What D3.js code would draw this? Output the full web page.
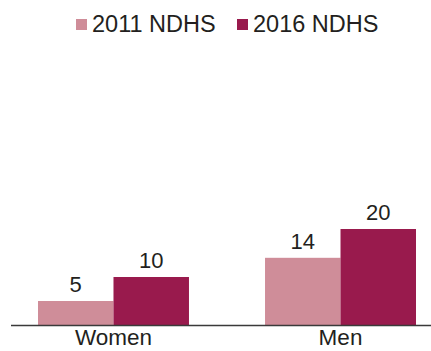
<!DOCTYPE html>
<html>
<head>
<meta charset="utf-8">
<script src="https://cdn.jsdelivr.net/npm/d3@7"></script>
<style>
  html, body { margin: 0; padding: 0; background: #fff; }
  svg { display: block; font-family: "Liberation Sans", Arial, sans-serif; }
</style>
</head>
<body>
<svg id="chart" width="431" height="351"></svg>
<script>
// Survey rounds and their values per group
const categories = ["Women", "Men"];
const seriesNames = ["2011 NDHS", "2016 NDHS"];
const values2011 = [5, 14];
const values2016 = [10, 20];
const colors = ["#cf8d99", "#991a4d"];

const svg = d3.select("#chart");
const baseline = 325;

const x = d3.scaleBand()
  .domain(categories)
  .range([38, 416])
  .paddingInner(0.335)
  .paddingOuter(0);

const xSub = d3.scaleBand()
  .domain(seriesNames)
  .range([0, x.bandwidth()])
  .padding(0);

const y = d3.scaleLinear()
  .domain([0, 25])
  .range([baseline, baseline - 25 * 4.8]);

const rows = categories.map((c, i) => ({
  category: c,
  items: [
    { series: seriesNames[0], value: values2011[i], color: colors[0] },
    { series: seriesNames[1], value: values2016[i], color: colors[1] }
  ]
}));

const groups = svg.selectAll("g.group")
  .data(rows)
  .join("g")
  .attr("class", "group")
  .attr("transform", d => `translate(${x(d.category)},0)`);

groups.selectAll("rect")
  .data(d => d.items)
  .join("rect")
  .attr("x", d => xSub(d.series))
  .attr("y", d => y(d.value))
  .attr("width", xSub.bandwidth())
  .attr("height", d => y(0) - y(d.value))
  .attr("fill", d => d.color);

groups.selectAll("text.value")
  .data(d => d.items)
  .join("text")
  .attr("class", "value")
  .attr("x", d => xSub(d.series) + xSub.bandwidth() / 2)
  .attr("y", d => y(d.value) - 9)
  .attr("text-anchor", "middle")
  .attr("font-size", 22)
  .attr("fill", "#231f20")
  .text(d => d.value);

// Baseline axis with category labels
const axis = svg.append("g")
  .attr("transform", `translate(0,${baseline})`)
  .call(d3.axisBottom(x).tickSize(0).tickPadding(4));
axis.select(".domain").remove();
axis.selectAll("text")
  .attr("font-size", 22.5)
  .attr("fill", "#231f20")
  .attr("font-family", "Liberation Sans, Arial, sans-serif");

svg.append("line")
  .attr("x1", 11).attr("x2", 431)
  .attr("y1", baseline + 0.5).attr("y2", baseline + 0.5)
  .attr("stroke", "#3a3a3a")
  .attr("stroke-width", 1.6);

// Legend
const legendX = [76, 237];
const legend = svg.selectAll("g.legend")
  .data(seriesNames)
  .join("g")
  .attr("class", "legend")
  .attr("transform", (d, i) => `translate(${legendX[i]},19)`);

legend.append("rect")
  .attr("width", 11)
  .attr("height", 11)
  .attr("fill", (d, i) => colors[i]);

legend.append("text")
  .attr("x", 16)
  .attr("y", 13)
  .attr("font-size", 23.5)
  .attr("fill", "#231f20")
  .text(d => d);
</script>
</body>
</html>
